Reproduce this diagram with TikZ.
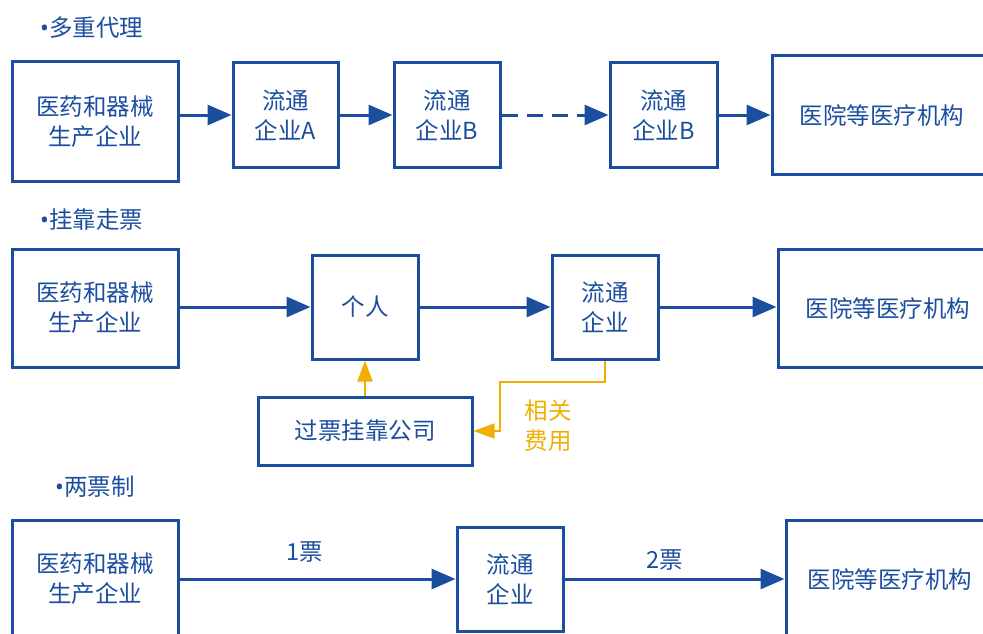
\documentclass[tikz,border=0pt]{standalone}
\usepackage{fontspec}
\setmainfont{Noto Sans CJK SC}
\newfontfamily\dotfont{Noto Sans}
\usetikzlibrary{arrows.meta}
\definecolor{zblue}{RGB}{28,78,160}
\definecolor{zgold}{RGB}{240,175,0}

\begin{document}
\begin{tikzpicture}[x=1pt,y=-1pt]
	\tikzstyle{box}=[draw=zblue, line width=3pt, text=zblue, align=center, inner sep=0pt, font=\fontsize{23.5}{30}\selectfont]
	\tikzstyle{flow}=[draw=zblue, line width=3pt, -{Triangle[length=24pt,width=20pt]}]
	\tikzstyle{fee}=[draw=zgold, line width=1.5pt, -{Triangle[length=21pt,width=15pt]}]
	\tikzstyle{title}=[text=zblue, font=\fontsize{23.5}{26}\selectfont, anchor=west, inner sep=0pt]
	\tikzstyle{lbl}=[text=zblue, font=\fontsize{23.5}{26}\selectfont, inner sep=0pt]
	\useasboundingbox (0,0) rectangle (983,634);
	\clip (0,0) rectangle (983,634);

	% multiple agents
	\node[title]	(t1)	at (40,28)	{{\dotfont •}多重代理};
	\node[box, minimum width=166pt, minimum height=119pt]	(m1)	at (95,121.5)	{医药和器械\\生产企业};
	\node[box, minimum width=105pt, minimum height=104pt]	(a1)	at (285.5,115)	{流通\\企业A};
	\node[box, minimum width=106pt, minimum height=104pt]	(b1)	at (447,115)	{流通\\企业B};
	\node[box, minimum width=107pt, minimum height=104pt]	(b2)	at (663.5,115)	{流通\\企业B};
	\node[box, minimum width=220pt, minimum height=118pt]	(h1)	at (882,115)	{医院等医疗机构};
	\draw[flow]	(a1.west -| m1.east) -- (a1.west);
	\draw[flow]	(a1.east) -- (b1.west);
	\draw[flow, dash pattern=on 16pt off 9pt]	(b1.east) -- (b2.west);
	\draw[flow]	(b2.east) -- (h1.west);

	% affiliation
	\node[title]	(t2)	at (40,220)	{{\dotfont •}挂靠走票};
	\node[box, minimum width=166pt, minimum height=118pt]	(m2)	at (95,308)	{医药和器械\\生产企业};
	\node[box, minimum width=106pt, minimum height=104pt]	(p2)	at (365,307)	{个人};
	\node[box, minimum width=106pt, minimum height=104pt]	(c2)	at (605,307)	{流通\\企业};
	\node[box, minimum width=220pt, minimum height=118pt]	(h2)	at (888,308)	{医院等医疗机构};
	\node[box, minimum width=214pt, minimum height=68pt]	(g2)	at (365,431)	{过票挂靠公司};
	\draw[flow]	(p2.west -| m2.east) -- (p2.west);
	\draw[flow]	(p2.east) -- (c2.west);
	\draw[flow]	(c2.east) -- (c2.east -| h2.west);
	\draw[fee]	(g2.north) -- (p2.south);
	\coordinate	(k2)	at (500,382);
	\draw[fee]	(c2.south) |- (k2) |- (g2.east);
	\node[lbl, text=zgold, align=center, font=\fontsize{23.5}{30}\selectfont]	(f2)	at (548,426)	{相关\\费用};

	% two invoices
	\node[title]	(t3)	at (55,487)	{{\dotfont •}两票制};
	\node[box, minimum width=166pt, minimum height=118pt]	(m3)	at (95,579)	{医药和器械\\生产企业};
	\node[box, minimum width=106pt, minimum height=104pt]	(c3)	at (510,579)	{流通\\企业};
	\node[box, minimum width=208pt, minimum height=118pt]	(h3)	at (890,579)	{医院等医疗机构};
	\draw[flow]	(m3.east) -- (c3.west);
	\draw[flow]	(c3.east) -- (h3.west);
	\node[lbl]	(n1)	at (305,552)	{1票};
	\node[lbl]	(n2)	at (665,560)	{2票};
\end{tikzpicture}
\end{document}
